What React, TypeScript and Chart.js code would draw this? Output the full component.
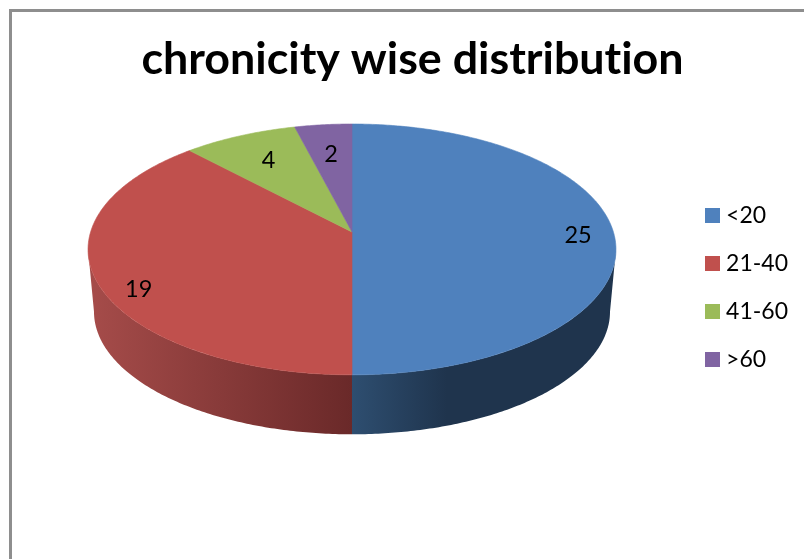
import React, { useEffect, useRef } from "react";
import { Chart, registerables } from "chart.js";

Chart.register(...registerables);

const chartTitle = "chronicity wise distribution";
const categories = ["<20", "21-40", "41-60", ">60"];
const patientCounts = [25, 19, 4, 2];
const faceColors = ["#4f81bd", "#c0504d", "#9bbb59", "#8064a2"];
// Side wall shading: colour at the left of the span, colour at the right of it.
const wallShades = [
  ["#2e4e70", "#1f344d"],
  ["#a64c4a", "#6a2929"],
  ["#6f8a3c", "#5a7030"],
  ["#5c4777", "#4a3960"],
];
const labelRadii = [0.865, 0.84, 0.72, 0.7];
const labelDrops = [3, 18, 0, 0];

const FONT = "Lato, 'Open Sans', sans-serif";

// Perspective disc: a circle seen from above, nearer at the bottom.
const CENTER_X = 352;
const TILT = 0.139;
const TOP_FACE = { apexY: 232, rx: 261.4, ry: 123 };
const BOTTOM_FACE = { apexY: 294.7, rx: 255.5, ry: 120.2 };

// Rim angles where the disc's outline turns; the wall only shows between them.
const WALL_FROM = Math.asin(TILT);
const WALL_TO = Math.PI - WALL_FROM;

type Face = typeof TOP_FACE;

function project(face: Face, angle: number, r = 1) {
  const d = 1 - TILT * r * Math.sin(angle);
  return {
    x: CENTER_X + (face.rx * r * Math.cos(angle)) / d,
    y: face.apexY + (face.ry * r * Math.sin(angle)) / d,
  };
}

function traceRim(ctx: CanvasRenderingContext2D, face: Face, from: number, to: number) {
  const steps = Math.max(4, Math.ceil(Math.abs(to - from) * 90));
  for (let i = 0; i <= steps; i++) {
    const p = project(face, from + ((to - from) * i) / steps);
    ctx.lineTo(p.x, p.y);
  }
}

const perspectivePie = {
  id: "perspectivePie",
  beforeDraw(chart: Chart) {
    const { ctx, width, height } = chart;
    // Keep "ti" as two letters in the title.
    (ctx as any).textRendering = "optimizeSpeed";
    ctx.save();
    ctx.fillStyle = "#8e8e8e";
    ctx.fillRect(9, 9, width - 9, 3);
    ctx.fillRect(9, 9, 3, height - 9);
    ctx.restore();
  },
  beforeDatasetsDraw(chart: Chart) {
    const { ctx } = chart;
    const arcs = chart.getDatasetMeta(0).data as any[];
    ctx.save();

    // Front walls first, then the top faces over them.
    arcs.forEach((arc, i) => {
      const from = Math.max(arc.startAngle, WALL_FROM);
      const to = Math.min(arc.endAngle, WALL_TO);
      if (to <= from) return;
      const midX = project(TOP_FACE, Math.PI / 2).x;
      const isRight = from < Math.PI / 2;
      const g = ctx.createLinearGradient(isRight ? midX : 88, 0, isRight ? 616 : midX, 0);
      g.addColorStop(0, wallShades[i][0]);
      if (isRight) g.addColorStop(0.36, wallShades[i][1]);
      g.addColorStop(1, wallShades[i][1]);
      ctx.fillStyle = g;
      ctx.beginPath();
      const head = project(TOP_FACE, from);
      ctx.moveTo(head.x, head.y);
      traceRim(ctx, TOP_FACE, from, to);
      traceRim(ctx, BOTTOM_FACE, to, from);
      ctx.closePath();
      ctx.fill();
    });

    arcs.forEach((arc, i) => {
      ctx.fillStyle = faceColors[i];
      ctx.strokeStyle = faceColors[i];
      ctx.lineWidth = 0.6;
      ctx.beginPath();
      ctx.moveTo(CENTER_X, TOP_FACE.apexY);
      traceRim(ctx, TOP_FACE, arc.startAngle, arc.endAngle);
      ctx.closePath();
      ctx.fill();
      ctx.stroke();
    });

    ctx.fillStyle = "#000000";
    ctx.font = `23.5px ${FONT}`;
    ctx.textAlign = "center";
    ctx.textBaseline = "middle";
    arcs.forEach((arc, i) => {
      const mid = (arc.startAngle + arc.endAngle) / 2;
      const p = project(TOP_FACE, mid, labelRadii[i]);
      ctx.fillText(String(patientCounts[i]), p.x, p.y + labelDrops[i]);
    });
    ctx.restore();
    return false;
  },
};

function swatch(color: string) {
  const c = document.createElement("canvas");
  c.width = 15;
  c.height = 15;
  const g = c.getContext("2d")!;
  g.fillStyle = color;
  g.fillRect(0, 0, 15, 15);
  return c;
}

export default function App() {
  const ref = useRef<HTMLCanvasElement>(null);

  useEffect(() => {
    const chart = new Chart(ref.current!, {
      type: "pie",
      data: {
        labels: categories,
        datasets: [{ data: patientCounts, backgroundColor: faceColors, borderWidth: 0 }],
      },
      options: {
        animation: false,
        responsive: false,
        layout: { padding: { left: 27, right: 6, top: 16, bottom: 0 } },
        plugins: {
          tooltip: { enabled: false },
          title: {
            display: true,
            text: chartTitle,
            color: "#000000",
            font: { family: FONT, size: 44.8, weight: "bold" },
            padding: { top: 17, bottom: 10 },
          },
          legend: {
            position: "right",
            labels: {
              color: "#000000",
              font: { family: FONT, size: 23 },
              boxWidth: 4,
              boxHeight: 15,
              padding: 25,
              usePointStyle: true,
              generateLabels: () =>
                categories.map((text, i) => ({
                  text,
                  index: i,
                  pointStyle: swatch(faceColors[i]),
                  fontColor: "#000000",
                  hidden: false,
                  lineWidth: 0,
                })) as any,
            },
          },
        },
      },
      plugins: [perspectivePie as any],
    });
    return () => chart.destroy();
  }, []);

  return (
    <canvas
      ref={ref}
      width={804}
      height={559}
      style={{ position: "absolute", left: 0, top: 0, display: "block" }}
    />
  );
}
